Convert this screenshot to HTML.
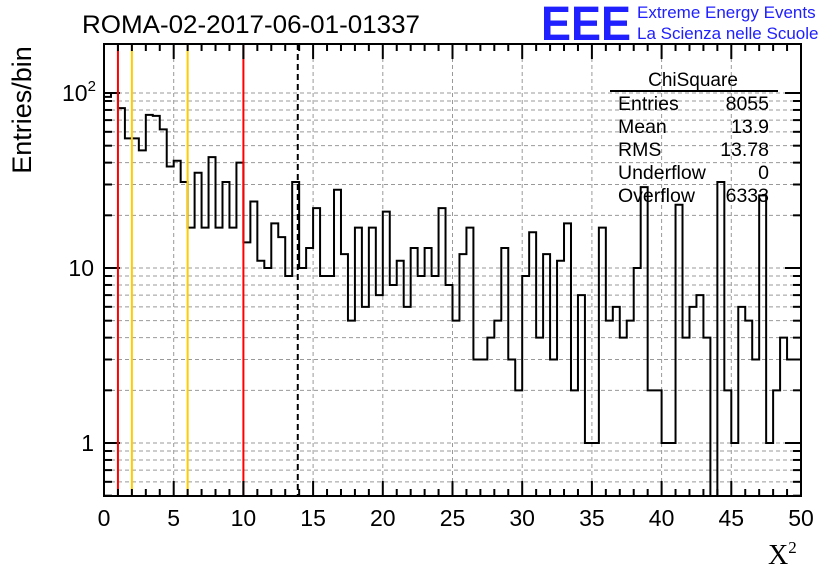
<!DOCTYPE html>
<html><head><meta charset="utf-8"><style>
body{margin:0;background:#fff;width:836px;height:572px;overflow:hidden}
svg{display:block;font-family:"Liberation Sans",sans-serif}
</style></head><body>
<svg id="c" width="836" height="572">
<text x="82" y="33" font-size="25" textLength="338" lengthAdjust="spacingAndGlyphs">ROMA-02-2017-06-01-01337</text>
<text x="541" y="40" font-size="48" font-weight="bold" fill="#2020ff" textLength="90" lengthAdjust="spacingAndGlyphs">EEE</text>
<text x="637" y="18" font-size="17" fill="#2020ff">Extreme Energy Events</text>
<text x="637" y="39" font-size="17" fill="#2020ff">La Scienza nelle Scuole</text>
<text transform="translate(31,110) rotate(-90)" font-size="27" text-anchor="middle">Entries/bin</text>
<text x="768" y="564" font-size="28" font-family="Liberation Serif,serif">X<tspan font-size="17" dy="-11">2</tspan></text>
</svg>
<script>
const counts=[95,100,82,55,55,47,75,74,62,38,41,31,17,35,17,43,17,31,17,40,14,24,11,10,18,15,9,31,10,13,22,9,9,28,12,5,17,6,17,7,21,8,11,6,13,9,13,9,22,8,5,12,17,3,3,4,5,13,3,2,9,16,4,12,3,11,18,2,7,1,1,17,5,6,4,5,10,29,2,2,1,1,23,4,6,7,4,0,31,2,1,6,5,3,26,1,2,4,3,3];
const xTicks=[0,5,10,15,20,25,30,35,40,45,50];
const redLines=[1,10];
const yellowLines=[2,6];
const meanLine=[13.9];
const stats=[["Entries","8055"],["Mean","13.9"],["RMS","13.78"],["Underflow","0"],["Overflow","6333"]];
const X0=104,X1=801,Y0=44,Y1=496;
const sx=v=>X0+(v/50)*(X1-X0);
const sy=v=>443-175*Math.log10(v);
const svg=document.getElementById('c');
const NS='http://www.w3.org/2000/svg';
function mk(t,a,p){const e=document.createElementNS(NS,t);for(const k in a)e.setAttribute(k,a[k]);(p||svg).appendChild(e);return e;}
for(let i=5;i<50;i+=5){const l=mk('line',{x1:sx(i),x2:sx(i),y1:Y0,y2:Y1,stroke:'#999','stroke-dasharray':'4,3'});

}
const yMinor=[];for(const d of [0.1,1,10,100])for(let m=1;m<10;m++){const v=m*d;const y=sy(v);if(y>Y0&&y<Y1)yMinor.push([v,m]);}
yMinor.forEach(([v,m])=>{const l=mk('line',{x1:X0,x2:X1,y1:sy(v),y2:sy(v),stroke:'#999','stroke-dasharray':'4,3'});


const tl=m===1?16:8;
const a=mk('line',{x1:X0,x2:X0+tl,y1:sy(v),y2:sy(v),stroke:'#000','stroke-width':2});


const b=mk('line',{x1:X1-tl,x2:X1,y1:sy(v),y2:sy(v),stroke:'#000','stroke-width':2});

});
let d='';const bw=0.5;
counts.forEach((c,i)=>{const y=c>0?Math.min(Y1,sy(c)):Y1;const xa=sx(i*bw),xb=sx((i+1)*bw);
if(i===0)d+=`M${xa},${y}`;else d+=`L${xa},${y}`;d+=`L${xb},${y}`;});
const h=mk('path',{d:d,fill:'none',stroke:'#000','stroke-width':2});


redLines.forEach(v=>{const l=mk('line',{x1:sx(v),x2:sx(v),y1:Y0,y2:Y1,stroke:'#f00','stroke-width':2});

});
yellowLines.forEach(v=>{const l=mk('line',{x1:sx(v),x2:sx(v),y1:Y0,y2:Y1,stroke:'#fc0','stroke-width':2});

});
meanLine.forEach(v=>{const l=mk('line',{x1:sx(v),x2:sx(v),y1:Y0,y2:Y1,stroke:'#000','stroke-width':2,'stroke-dasharray':'6,4'});

});
const f=mk('rect',{x:X0,y:Y0,width:X1-X0,height:Y1-Y0,fill:'none',stroke:'#000','stroke-width':2});


for(let i=0;i<=50;i++){const maj=i%5===0;const tl=maj?15:7;
const a=mk('line',{x1:sx(i),x2:sx(i),y1:Y1-tl,y2:Y1,stroke:'#000','stroke-width':2});


const b=mk('line',{x1:sx(i),x2:sx(i),y1:Y0,y2:Y0+tl,stroke:'#000','stroke-width':2});

}
xTicks.forEach(v=>{const t=mk('text',{x:sx(v),y:526,'font-size':23,'text-anchor':'middle'});t.textContent=v;

});
[[1,'1'],[10,'10']].forEach(([v,s])=>{const t=mk('text',{x:X0-10,y:sy(v)+8,'font-size':23,'text-anchor':'end'});t.textContent=s;

});
const t100=mk('text',{x:62,y:sy(100)+8,'font-size':23});t100.innerHTML='10<tspan font-size="15" dy="-10">2</tspan>';


const g=mk('g',{});


const ttl=mk('text',{x:693,y:86,'font-size':19,'text-anchor':'middle'},g);ttl.textContent='ChiSquare';


mk('line',{x1:610,x2:778,y1:91,y2:91,stroke:'#000','stroke-width':2},g);
stats.forEach(([k,v],i)=>{const y=110+i*23;
const a=mk('text',{x:618,y:y,'font-size':19.5},g);a.textContent=k;


const b=mk('text',{x:769,y:y,'font-size':19.5,'text-anchor':'end'},g);b.textContent=v;

});
</script>
</body></html>
